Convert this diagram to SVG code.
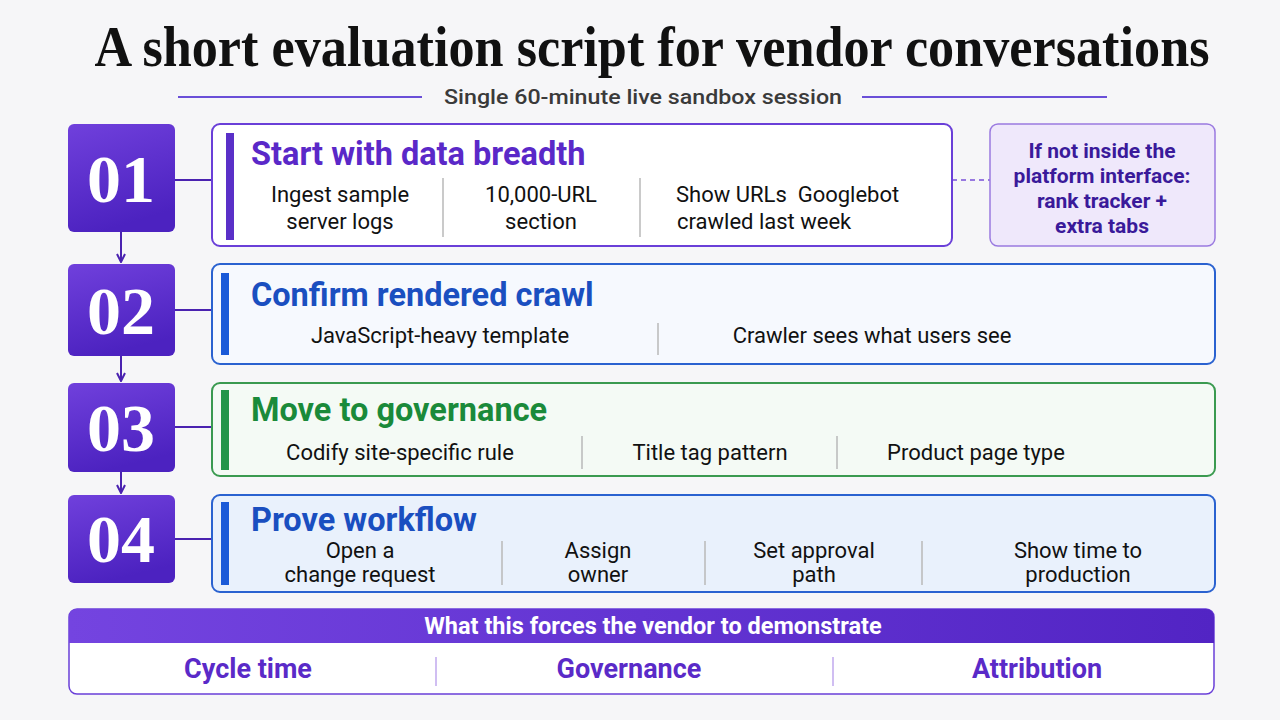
<svg xmlns="http://www.w3.org/2000/svg" width="1280" height="720" viewBox="0 0 1280 720">
<defs>
<linearGradient id="gNum" x1="0" y1="0" x2="0.3" y2="1">
<stop offset="0" stop-color="#7040dc"/><stop offset="1" stop-color="#4c22c0"/>
</linearGradient>
<linearGradient id="gHead" x1="0" y1="0" x2="1" y2="0">
<stop offset="0" stop-color="#7444e0"/><stop offset="1" stop-color="#5224c4"/>
</linearGradient>
<marker id="arr" viewBox="0 0 10 10" refX="9" refY="5" markerWidth="10" markerHeight="10" markerUnits="userSpaceOnUse" orient="auto">
<path d="M1,1 L9,5 L1,9" fill="none" stroke="#4a22b0" stroke-width="2"/>
</marker>
<style>
.num{fill:url(#gNum)}
.numt{font-family:"Liberation Serif",serif;font-weight:bold;font-size:68px;fill:#fff;text-anchor:middle}
.h{font-family:Roboto,"Liberation Sans",sans-serif;font-weight:bold;font-size:32.5px}
.b{font-family:Roboto,"Liberation Sans",sans-serif;font-size:22px;fill:#111;text-anchor:middle}
.bl{font-family:Roboto,"Liberation Sans",sans-serif;font-size:22px;fill:#111;text-anchor:start}
.div{stroke:#b8b8b8;stroke-width:1.5}
.conn{stroke:#4a22b0;stroke-width:2;fill:none}
</style>
</defs>
<rect width="1280" height="720" fill="#f6f6f8"/>
<g id="title">
<text x="652" y="66" font-family="Liberation Serif,serif" font-weight="bold" font-size="57" text-anchor="middle" fill="#111" textLength="1115" lengthAdjust="spacingAndGlyphs">A short evaluation script for vendor conversations</text>
<line x1="178" y1="97" x2="422" y2="97" stroke="#6a4fd8" stroke-width="2"/>
<line x1="862" y1="97" x2="1107" y2="97" stroke="#6a4fd8" stroke-width="2"/>
<text x="643" y="104" font-family="Roboto,Liberation Sans,sans-serif" font-weight="500" font-size="21" fill="#3a3a3a" text-anchor="middle" textLength="398" lengthAdjust="spacingAndGlyphs">Single 60-minute live sandbox session</text>
</g>
<g id="connectors">
<line class="conn" x1="121" y1="232" x2="121" y2="262" marker-end="url(#arr)"/>
<line class="conn" x1="121" y1="356" x2="121" y2="381" marker-end="url(#arr)"/>
<line class="conn" x1="121" y1="472" x2="121" y2="493" marker-end="url(#arr)"/>
<line class="conn" x1="175" y1="180" x2="212" y2="180"/>
<line class="conn" x1="175" y1="310" x2="212" y2="310"/>
<line class="conn" x1="175" y1="427" x2="212" y2="427"/>
<line class="conn" x1="175" y1="539" x2="212" y2="539"/>
<line x1="952" y1="180" x2="990" y2="180" stroke="#7a50d8" stroke-width="1.5" stroke-dasharray="5,4"/>
</g>
<g id="step01">
<rect class="num" x="68" y="124" width="107" height="108" rx="6"/>
<text class="numt" x="121" y="202">01</text>
</g>
<g id="card01">
<rect x="212" y="124" width="740" height="122" rx="8" fill="#fff" stroke="#6a3fd8" stroke-width="2"/>
<rect x="226" y="133" width="8" height="107" fill="#5a30c8"/>
<text class="h" x="251" y="165" fill="#5a28c8">Start with data breadth</text>
<text class="b" x="340" y="202">Ingest sample</text>
<text class="b" x="340" y="229">server logs</text>
<line class="div" x1="443" y1="178" x2="443" y2="237"/>
<text class="b" x="541" y="202">10,000-URL</text>
<text class="b" x="541" y="229">section</text>
<line class="div" x1="640" y1="178" x2="640" y2="237"/>
<text class="bl" x="676" y="202" xml:space="preserve">Show URLs  Googlebot</text>
<text class="bl" x="677" y="229">crawled last week</text>
</g>
<g id="note">
<rect x="990" y="124" width="225" height="122" rx="8" fill="#efe8fb" stroke="#9a7ae0" stroke-width="1.5"/>
<g font-family="Roboto,Liberation Sans,sans-serif" font-weight="bold" font-size="21" fill="#3a1a9a" text-anchor="middle">
<text x="1102" y="158">If not inside the</text>
<text x="1102" y="183">platform interface:</text>
<text x="1102" y="208">rank tracker +</text>
<text x="1102" y="233">extra tabs</text>
</g>
</g>
<g id="step02">
<rect class="num" x="68" y="264" width="107" height="92" rx="6"/>
<text class="numt" x="121" y="334">02</text>
</g>
<g id="card02">
<rect x="212" y="264" width="1003" height="100" rx="8" fill="#f6f9fe" stroke="#2a62d0" stroke-width="2"/>
<rect x="221" y="273" width="8" height="82" fill="#1a5ad8"/>
<text class="h" x="251" y="306" fill="#1a4fc0">Confirm rendered crawl</text>
<text class="b" x="440" y="343">JavaScript-heavy template</text>
<line class="div" x1="658" y1="323" x2="658" y2="355"/>
<text class="b" x="872" y="343">Crawler sees what users see</text>
</g>
<g id="step03">
<rect class="num" x="68" y="383" width="107" height="89" rx="6"/>
<text class="numt" x="121" y="451">03</text>
</g>
<g id="card03">
<rect x="212" y="383" width="1003" height="93" rx="8" fill="#f4faf5" stroke="#3a9a50" stroke-width="2"/>
<rect x="221" y="390" width="8" height="80" fill="#22944a"/>
<text class="h" x="251" y="421" fill="#1a8a3a">Move to governance</text>
<text class="b" x="400" y="460">Codify site-specific rule</text>
<line class="div" x1="582" y1="436" x2="582" y2="469"/>
<text class="b" x="710" y="460">Title tag pattern</text>
<line class="div" x1="837" y1="436" x2="837" y2="469"/>
<text class="b" x="976" y="460">Product page type</text>
</g>
<g id="step04">
<rect class="num" x="68" y="495" width="107" height="88" rx="6"/>
<text class="numt" x="121" y="562">04</text>
</g>
<g id="card04">
<rect x="212" y="495" width="1003" height="97" rx="8" fill="#e9f1fc" stroke="#2a62d0" stroke-width="2"/>
<rect x="221" y="502" width="8" height="83" fill="#1a5ad8"/>
<text class="h" x="251" y="531" fill="#1a4fc0">Prove workflow</text>
<text class="b" x="360" y="558">Open a</text>
<text class="b" x="360" y="582">change request</text>
<line class="div" x1="502" y1="541" x2="502" y2="585"/>
<text class="b" x="598" y="558">Assign</text>
<text class="b" x="598" y="582">owner</text>
<line class="div" x1="705" y1="541" x2="705" y2="585"/>
<text class="b" x="814" y="558">Set approval</text>
<text class="b" x="814" y="582">path</text>
<line class="div" x1="922" y1="541" x2="922" y2="585"/>
<text class="b" x="1078" y="558">Show time to</text>
<text class="b" x="1078" y="582">production</text>
</g>
<g id="summary">
<rect x="69" y="609" width="1145" height="85" rx="8" fill="#fff" stroke="#6a3fd8" stroke-width="1.5"/>
<path d="M69,643 V617 a8,8 0 0 1 8,-8 H1206 a8,8 0 0 1 8,8 V643 Z" fill="url(#gHead)"/>
<text x="653" y="634" font-family="Roboto,Liberation Sans,sans-serif" font-weight="bold" font-size="23.5" fill="#fff" text-anchor="middle">What this forces the vendor to demonstrate</text>
<g font-family="Roboto,Liberation Sans,sans-serif" font-weight="bold" font-size="27" fill="#5a2ac8" text-anchor="middle">
<text x="248" y="678">Cycle time</text>
<text x="629" y="678">Governance</text>
<text x="1037" y="678">Attribution</text>
</g>
<line x1="436" y1="657" x2="436" y2="686" stroke="#c0a8ee" stroke-width="1.5"/>
<line x1="833" y1="657" x2="833" y2="686" stroke="#c0a8ee" stroke-width="1.5"/>
</g>
</svg>
